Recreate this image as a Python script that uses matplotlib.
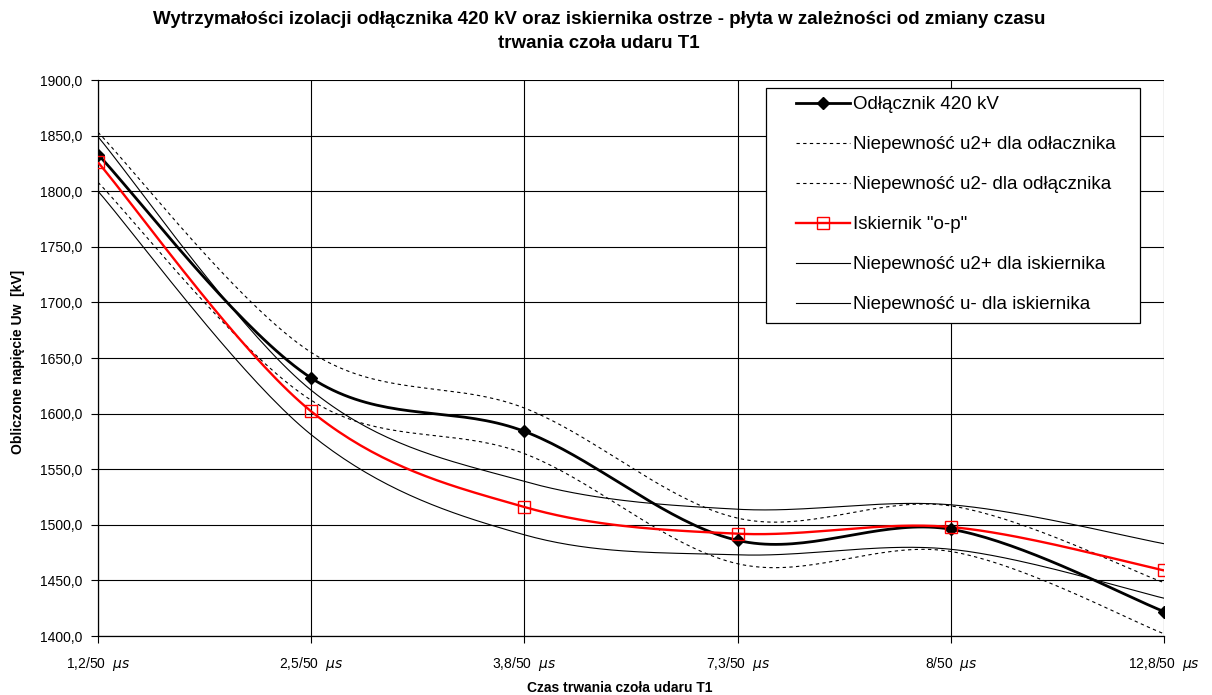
import numpy as np
import matplotlib
matplotlib.use("Agg")
import matplotlib.pyplot as plt
from matplotlib.lines import Line2D
from matplotlib.patches import Rectangle

plt.rcParams["font.family"] = ["Liberation Sans", "DejaVu Sans"]

# Category axis (front time of the impulse)
categories = ["1,2/50", "2,5/50", "3,8/50", "7,3/50", "8/50", "12,8/50"]

# Disconnector 420 kV and its uncertainty band
odl = [1833, 1632, 1584, 1486, 1496, 1422]
odl_up = [1853, 1655, 1605, 1506, 1517, 1448]
odl_dn = [1808, 1612, 1564, 1465, 1476, 1402]

# Rod-plane gap ("o-p") and its uncertainty band
isk = [1826, 1602, 1516, 1492, 1498, 1459]
isk_up = [1849, 1621, 1539, 1514, 1518, 1483]
isk_dn = [1800, 1581, 1491, 1473, 1478, 1434]

labels = ["Odłącznik 420 kV",
          "Niepewność u2+ dla odłacznika",
          "Niepewność u2- dla odłącznika",
          'Iskiernik "o-p"',
          "Niepewność u2+ dla iskiernika",
          "Niepewność u- dla iskiernika"]


def smooth(y, n=40):
    """Excel-like smoothed line: cubic Bezier through the points (Catmull-Rom)."""
    y = np.asarray(y, float)
    x = np.arange(len(y), dtype=float)
    pts = np.column_stack([x, y])
    ext = np.vstack([pts[0], pts, pts[-1]])
    t = np.linspace(0, 1, n)[:, None]
    out = []
    for i in range(len(pts) - 1):
        p0, p3 = ext[i + 1], ext[i + 2]
        p1 = p0 + (ext[i + 2] - ext[i]) / 6.0
        p2 = p3 - (ext[i + 3] - ext[i + 1]) / 6.0
        seg = ((1 - t) ** 3) * p0 + 3 * ((1 - t) ** 2) * t * p1 \
            + 3 * (1 - t) * t ** 2 * p2 + t ** 3 * p3
        out.append(seg if i == 0 else seg[1:])
    out = np.vstack(out)
    return out[:, 0], out[:, 1]


fig = plt.figure(figsize=(12.12, 6.95), dpi=100)
ax = fig.add_axes([98 / 1212, 1 - 636 / 695, (1164 - 98) / 1212, (636 - 80) / 695])

xs = np.arange(len(categories))
thin = dict(color="black", lw=0.8)
dash = dict(color="black", lw=0.8, dashes=(3, 3))

ax.plot(*smooth(odl), color="black", lw=2.0, zorder=3)
ax.plot(xs, odl, ls="none", marker="D", ms=6.5, color="black", zorder=6)
ax.plot(*smooth(odl_up), zorder=3, **dash)
ax.plot(*smooth(odl_dn), zorder=3, **dash)
ax.plot(*smooth(isk), color="red", lw=1.7, zorder=4)
ax.plot(xs, isk, ls="none", marker="s", ms=9, mfc="none", mec="red",
        mew=1.0, zorder=7)
ax.plot(*smooth(isk_up), zorder=5, **thin)
ax.plot(*smooth(isk_dn), zorder=5, **thin)

ax.set_xlim(0, len(categories) - 1)
ax.set_ylim(1400, 1900)
ax.set_yticks(np.arange(1400, 1901, 50))
ax.set_yticklabels([f"{v:.1f}".replace(".", ",") for v in np.arange(1400, 1901, 50)],
                   fontsize=10)
ax.set_xticks(xs)
ax.set_xticklabels([f"{c}  $\\mu s$" for c in categories], fontsize=10)
ax.tick_params(axis="x", length=5, width=0.8, pad=9)
ax.tick_params(axis="y", length=5, width=0.8, pad=6)
ax.grid(True, color="black", lw=0.8)
ax.set_axisbelow(True)
for s in ("top", "right"):
    ax.spines[s].set_visible(False)
for s in ("left", "bottom"):
    ax.spines[s].set_linewidth(0.9)

# Legend box drawn by hand so the padding matches the Excel look
ax.add_patch(Rectangle(((766 - 98) / 1066, (636 - 323) / 556),
                       (1140 - 766) / 1066, (323 - 88) / 556,
                       transform=ax.transAxes, facecolor="white",
                       edgecolor="black", lw=0.9, zorder=10))
handles = [
    Line2D([], [], color="black", lw=2.0, marker="D", ms=6.5),
    Line2D([], [], **dash),
    Line2D([], [], **dash),
    Line2D([], [], color="red", lw=1.7, marker="s", ms=9, mfc="none", mec="red"),
    Line2D([], [], **thin),
    Line2D([], [], **thin),
]
leg = ax.legend(handles, labels, loc="upper left", frameon=False,
                bbox_to_anchor=((796 - 98) / 1066, (636 - 96) / 556),
                borderpad=0, borderaxespad=0, fontsize=13.5,
                handlelength=2.9, handletextpad=0.15, labelspacing=1.22,
                markerscale=1.0)
leg.set_zorder(11)

fig.text(0.494, 1 - 19 / 695, "Wytrzymałości izolacji odłącznika 420 kV oraz "
         "iskiernika ostrze - płyta w zależności od zmiany czasu",
         ha="center", va="center", fontsize=13.5, weight="bold")
fig.text(0.494, 1 - 43 / 695, "trwania czoła udaru T1",
         ha="center", va="center", fontsize=13.5, weight="bold")
fig.text(18 / 1212, 1 - 362 / 695, "Obliczone napięcie Uw  [kV]", rotation=90,
         ha="center", va="center", fontsize=10, weight="bold")
fig.text(620 / 1212, 1 - 688 / 695, "Czas trwania czoła udaru T1",
         ha="center", va="center", fontsize=10, weight="bold")

fig.savefig("out.png", dpi=100)
